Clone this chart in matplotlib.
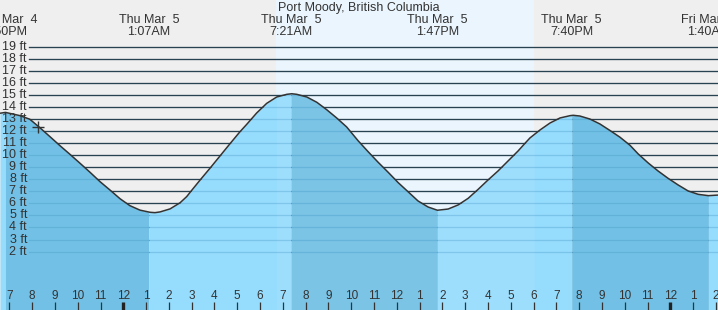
import matplotlib
matplotlib.use("Agg")
import matplotlib.pyplot as plt
import matplotlib.transforms as mtransforms
import numpy as np

# ====================== DATA ======================
TITLE = "Port Moody, British Columbia"

# curve, hours from midnight Thu Mar 5 -> height in ft
tide_hours = [-5.41, -5.17, -4.53, -4.10, -3.66, -3.22, -2.78, -2.34, -1.90, -1.46,
              -1.02, -0.58, -0.14, 0.29, 0.73, 1.17, 1.39, 1.61, 2.05, 2.49,
              2.78, 3.00, 3.37, 3.80, 4.24, 4.68, 5.12, 5.41, 5.85, 6.29,
              6.73, 7.17, 7.39, 7.61, 8.05, 8.49, 8.92, 9.36, 9.80, 10.30,
              10.74, 11.18, 11.62, 12.06, 12.49, 12.93, 13.37, 13.78, 14.25, 14.69,
              15.13, 15.57, 16.00, 16.44, 16.88, 17.32, 17.63, 17.84, 18.28, 18.72,
              19.16, 19.60, 19.74, 20.03, 20.47, 20.91, 21.35, 21.79, 22.23, 22.59,
              23.03, 23.46, 23.90, 24.34, 24.78, 25.22, 25.67, 26.10]
tide_ft = [13.48, 13.55, 13.28, 12.98, 12.28, 11.54, 10.79, 10.07, 9.33, 8.58,
           7.80, 7.10, 6.38, 5.81, 5.44, 5.26, 5.23, 5.29, 5.54, 6.05,
           6.56, 7.08, 7.94, 8.91, 9.93, 10.95, 11.95, 12.55, 13.50, 14.30,
           14.83, 15.05, 15.10, 15.05, 14.83, 14.39, 13.78, 13.09, 12.34, 11.20,
           10.29, 9.41, 8.58, 7.72, 6.97, 6.20, 5.70, 5.43, 5.53, 5.87,
           6.42, 7.17, 7.94, 8.69, 9.52, 10.35, 11.00, 11.43, 12.09, 12.67,
           13.09, 13.28, 13.31, 13.25, 13.00, 12.59, 12.05, 11.49, 10.82, 10.10,
           9.35, 8.69, 8.08, 7.53, 7.03, 6.75, 6.64, 6.69]

# highs / lows
event_hours = [-5.17, 1.12, 7.35, 13.78, 19.67, 25.67]
event_days = ["Wed Mar  4", "Thu Mar  5", "Thu Mar  5", "Thu Mar  5", "Thu Mar  5", "Fri Mar  6"]
event_times = ["6:50PM", "1:07AM", "7:21AM", "1:47PM", "7:40PM", "1:40AM"]

sunrise, sunset = 6.72, 18.02
now_hour, now_ft = -3.74, 12.32

ft_levels = list(range(2, 20))
hour_ticks = list(range(-5, 27))
# ==================================================

X_MIN, X_MAX = -5.41, 26.09
Y_MIN, Y_MAX = -2.85, 22.88

NIGHT = "#efefef"
DAY = "#ebf5fe"
RISING = "#96dcfd"
FALLING = "#72c0e5"
TXT = "#333333"

plt.rcParams['font.family'] = ['Liberation Sans', 'DejaVu Sans']

fig = plt.figure(figsize=(7.18, 3.10), dpi=100, facecolor=NIGHT)
ax = fig.add_axes([0, 0, 1, 1])
ax.set_xlim(X_MIN, X_MAX)
ax.set_ylim(Y_MIN, Y_MAX)
ax.axis('off')

# sky
ax.axvspan(sunrise, sunset, color=DAY, lw=0, zorder=0)

# grid lines (black in the sky)
for v in ft_levels:
    ax.axhline(v, xmin=29 / 718, color="#222222", lw=0.9, zorder=1)

hrs = np.array(tide_hours)
fts = np.array(tide_ft)


def segment(a, b):
    # curve clipped to [a, b]
    inner = (hrs > a) & (hrs < b)
    hs = np.concatenate([[a], hrs[inner], [b]])
    return hs, np.interp(hs, hrs, fts)


# fill under the curve, shaded by rising / falling tide
bounds = [tide_hours[0]] + event_hours + [tide_hours[-1]]
for a, b in zip(bounds[:-1], bounds[1:]):
    hs, fs = segment(a, b)
    col = RISING if fs[-1] > fs[0] else FALLING
    ax.fill_between(hs, Y_MIN, fs, color=col, lw=0, zorder=2)

# daylight makes the water a touch lighter
hs, fs = segment(sunrise, sunset)
ax.fill_between(hs, Y_MIN, fs, color="white", alpha=0.07, lw=0, zorder=2.1)

# faint grid lines under water
for v in ft_levels:
    ax.axhline(v, xmin=29 / 718, color="#3a8fc0", alpha=0.3, lw=0.9, zorder=2.5)

ax.plot(tide_hours, tide_ft, color="#333333", lw=1.1, zorder=4,
        solid_joinstyle='round', solid_capstyle='round')
ax.plot([now_hour], [now_ft], marker='+', ms=9, mew=1.0, color="#333333", zorder=5)

# y labels
ytrans = mtransforms.blended_transform_factory(ax.transAxes, ax.transData)
for v in ft_levels:
    ax.text(27 / 718, v, f"{v} ft", transform=ytrans, ha='right', va='center',
            fontsize=9, color=TXT, zorder=6)

# hour ticks along the bottom
xtrans = mtransforms.blended_transform_factory(ax.transData, ax.transAxes)
for h in hour_ticks:
    lab = str(h % 12 if h % 12 else 12)
    ax.text(h, 1 - 295.7 / 310, lab, transform=xtrans, ha='center', va='center',
            fontsize=8.5, color=TXT, zorder=6)
    midnight = h % 24 == 0
    ax.plot([h, h], [0, 8 / 310], transform=xtrans, color="#222222" if midnight else TXT,
            lw=2.4 if midnight else 0.9, zorder=6, solid_capstyle='butt')

# high / low labels on top
for h, d, t in zip(event_hours, event_days, event_times):
    ax.text(h, 1 - 20 / 310, d, transform=xtrans, ha='center', va='center',
            fontsize=9, color=TXT, zorder=6)
    ax.text(h, 1 - 32 / 310, t, transform=xtrans, ha='center', va='center',
            fontsize=9, color=TXT, zorder=6)

ax.text(0.5, 1 - 7.5 / 310, TITLE, transform=ax.transAxes, ha='center', va='center',
        fontsize=9, color=TXT, zorder=6)

fig.savefig("out.png", dpi=100, facecolor=NIGHT)
